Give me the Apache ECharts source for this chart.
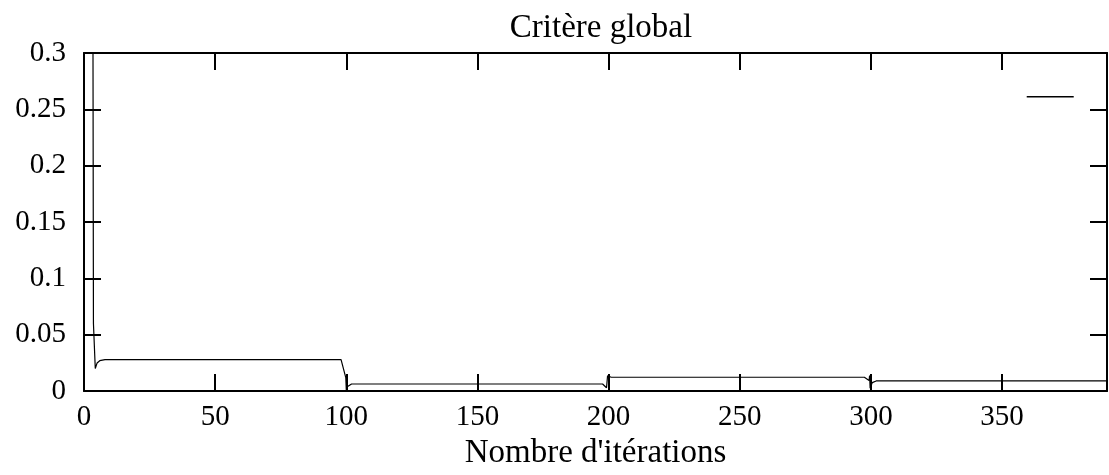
<!DOCTYPE html>
<html>
<head>
<meta charset="utf-8">
<script src="https://cdn.jsdelivr.net/npm/echarts@6/dist/echarts.min.js"></script>
<style>html,body{margin:0;padding:0;background:#fff}#c{width:1109px;height:475px}</style>
</head>
<body>
<div id="c"></div>
<script>
const titleText = 'Critère global';
const xName = "Nombre d'itérations";
const iterations = [0, 2, 3, 3.6, 4.3, 5, 6, 8, 98, 99.8, 100, 100.5, 102, 197.7, 199.2, 199.6, 201, 297.5, 299.3, 299.5, 299.7, 300.5, 302, 390];
const criterion  = [6.0, 2.0, 0.9, 0.06, 0.02, 0.025, 0.027, 0.028, 0.028, 0.012, 0.001, 0.004, 0.0063, 0.0063, 0.003, 0.0135, 0.0123, 0.0123, 0.0095, 0.0138, 0.0025, 0.0075, 0.009, 0.009];
const xTicks = {min: 0, max: 390, interval: 50};
const yTicks = {min: 0, max: 0.3, interval: 0.05};

const font = 'Liberation Serif';
const chart = echarts.init(document.getElementById('c'), null, {renderer: 'canvas'});
const axisLine = {show: true, onZero: false, lineStyle: {color: '#000', width: 2}};
const tickIn = {show: true, inside: true, length: 17, lineStyle: {color: '#000', width: 2}};
chart.setOption({
  animation: false,
  backgroundColor: '#fff',
  title: {text: titleText, left: 596, textAlign: 'center', top: 7,
    textStyle: {fontFamily: font, fontSize: 33, fontWeight: 'normal', color: '#000'}},
  legend: {data: [{name: ' ', icon: 'rect'}], right: 30, top: 96, itemWidth: 47, itemHeight: 1.5,
    textStyle: {fontSize: 1}, itemGap: 0, padding: 0},
  grid: {left: 84, right: 2, top: 53, bottom: 68, containLabel: false},
  xAxis: [
    {type: 'value', position: 'bottom', min: xTicks.min, max: xTicks.max, interval: xTicks.interval,
     name: xName, nameLocation: 'middle', nameGap: 41,
     nameTextStyle: {fontFamily: font, fontSize: 33, color: '#000'},
     axisLine: axisLine, axisTick: tickIn, splitLine: {show: false},
     axisLabel: {fontFamily: font, fontSize: 29, color: '#000', margin: 12,
       showMaxLabel: false}},
    {type: 'value', position: 'top', min: xTicks.min, max: xTicks.max, interval: xTicks.interval,
     axisLine: axisLine, axisTick: tickIn, splitLine: {show: false}, axisLabel: {show: false}}
  ],
  yAxis: [
    {type: 'value', position: 'left', min: yTicks.min, max: yTicks.max, interval: yTicks.interval,
     axisLine: axisLine, axisTick: tickIn, splitLine: {show: false},
     axisLabel: {fontFamily: font, fontSize: 29, color: '#000', margin: 18}},
    {type: 'value', position: 'right', min: yTicks.min, max: yTicks.max, interval: yTicks.interval,
     axisLine: axisLine, axisTick: tickIn, splitLine: {show: false}, axisLabel: {show: false}}
  ],
  series: [{
    name: ' ', type: 'line', xAxisIndex: 0, yAxisIndex: 0,
    data: iterations.map((x, i) => [x, criterion[i]]),
    showSymbol: false, symbol: 'none', clip: true,
    lineStyle: {color: '#000', width: 1.2}, itemStyle: {color: '#000'}
  }]
});
</script>
</body>
</html>
